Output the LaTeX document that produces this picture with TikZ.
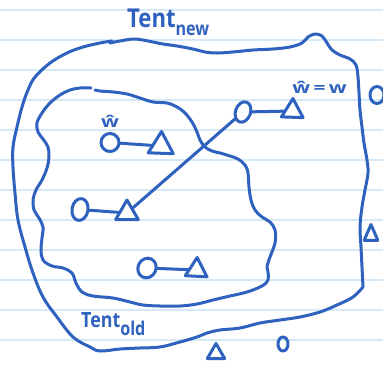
\documentclass[tikz,border=0pt]{standalone}
\usepackage{fontspec}
\newfontfamily\handfont{Open Sans}
\usetikzlibrary{shapes.geometric}
\definecolor{ink}{HTML}{2E62BE}
\definecolor{ruling}{HTML}{D5E9F7}

\begin{document}
\begin{tikzpicture}[x=1pt,y=-1pt,
  pen/.style={draw=ink, line width=3pt, line cap=round, line join=round},
  blob/.style={pen, ellipse, inner sep=0pt},
  tri/.style={pen, regular polygon, regular polygon sides=3, inner sep=0pt},
  link/.style={pen},
  lbl/.style={text=ink, inner sep=0pt}
]
% paper
\fill[white] (0,0) rectangle (383,365);
\useasboundingbox (0,0) rectangle (383,365);
\foreach \y in {10,40,...,340}
  \draw[ruling, line width=1.3pt] (0,\y) -- (383,\y);

% outer region (Tent_new)
\draw[pen] plot[smooth, tension=0.6] coordinates {
  (110,43) (120,41) (133,39) (143,40) (153,42) (163,44) (177,46) (193,49)
  (205,52) (217,53) (233,52) (253,50) (273,49) (290,47) (302,43) (308,37)
  (315,34) (322,36) (327,43) (332,50) (340,55) (350,59) (356,65) (358,77)
  (359,93) (360,110) (362,127) (364,143) (367,160) (368,173) (365,190)
  (362,207) (360,227) (361,247) (362,267) (363,287)}
  plot[smooth, tension=0.6] coordinates {
  (363,287) (353,297) (337,305) (320,312) (300,317) (280,320) (260,323)
  (240,328) (220,330) (207,333) (197,337) (180,342) (160,347) (140,348)
  (120,349) (100,351) (90,347) (73,337) (57,317) (43,297) (33,273) (25,247)
  (18,220) (15,193) (13,167) (13,147) (17,127) (22,107) (28,90) (35,77)
  (50,63) (67,53) (83,47) (100,43) (112,41)};

% inner region (Tent_old)
\draw[pen] plot[smooth, tension=0.6] coordinates {
  (91,88) (80,88) (70,90) (60,95) (50,103) (42,113) (37,123) (38,132)
  (43,139) (48,147) (49,157) (47,168) (42,180) (36,190) (33,200) (34,210)
  (39,218) (43,227) (42,238) (41,250) (43,260) (52,266) (63,268) (72,273)
  (76,283) (82,292) (93,296) (113,298) (130,302) (143,305) (160,306)
  (180,306) (197,304) (213,300) (230,296) (247,292) (262,286) (268,280)
  (268,272) (267,267) (270,257) (275,243) (275,230) (270,222) (262,217)
  (255,210) (251,200) (249,187) (248,173) (245,165) (238,159) (230,156)
  (220,153) (212,151) (205,147) (200,140) (197,132) (192,122) (185,113)
  (177,107) (167,103) (153,102) (140,98) (127,94) (113,92) (100,91) (95,90)};

% pairs inside
\node[blob, minimum width=18pt, minimum height=18pt] (c1) at (110,142.5) {};
\node[tri, minimum size=29pt, rotate=-2] (t1) at (161,146) {};
\node[blob, minimum width=16pt, minimum height=22pt, rotate=-10] (c2) at (80,209.5) {};
\node[tri, minimum size=26pt] (t2) at (127,213) {};
\node[blob, minimum width=18pt, minimum height=20pt, rotate=-25] (c3) at (147,268) {};
\node[tri, minimum size=25pt, rotate=-3] (t3) at (196.5,270) {};
\node[blob, minimum width=15pt, minimum height=21pt, rotate=-20] (c4) at (243,112) {};
\node[tri, minimum size=25pt, rotate=-2] (t4) at (292.5,111) {};

% points outside
\node[blob, minimum width=14pt, minimum height=17pt] (c5) at (377,95) {};
\node[tri, minimum size=21pt, xscale=0.75] (t6) at (371,235) {};
\node[tri, minimum size=20pt] (t7) at (216,353.5) {};
\node[blob, minimum width=10pt, minimum height=14pt] (c8) at (283,344) {};

% connectors
\draw[link] (c1) -- (t1);
\draw[link] (c2) -- (t2);
\draw[link] (c3) -- (t3);
\draw[link] (c4) -- (t4);
\draw[link] (c4) -- (t2);

% labels
\node[lbl, anchor=base west, font=\handfont\bfseries\fontsize{26}{26}\selectfont, xscale=0.85]
  (tnew) at (127,27) {Tent\raisebox{-8pt}{\fontsize{19}{19}\selectfont new}};
\node[lbl, anchor=base west, font=\handfont\bfseries\fontsize{21}{21}\selectfont, xscale=0.85]
  (told) at (81,327) {Tent\raisebox{-8pt}{\fontsize{19}{19}\selectfont old}};
\node[lbl, anchor=base, font=\handfont\bfseries\fontsize{16}{16}\selectfont, xscale=1.3]
  (what) at (110,127) {ŵ};
\node[lbl, anchor=base west, font=\handfont\bfseries\fontsize{16}{16}\selectfont, xscale=1.3]
  (weq) at (292,93) {ŵ\,=\,w};
\end{tikzpicture}
\end{document}
